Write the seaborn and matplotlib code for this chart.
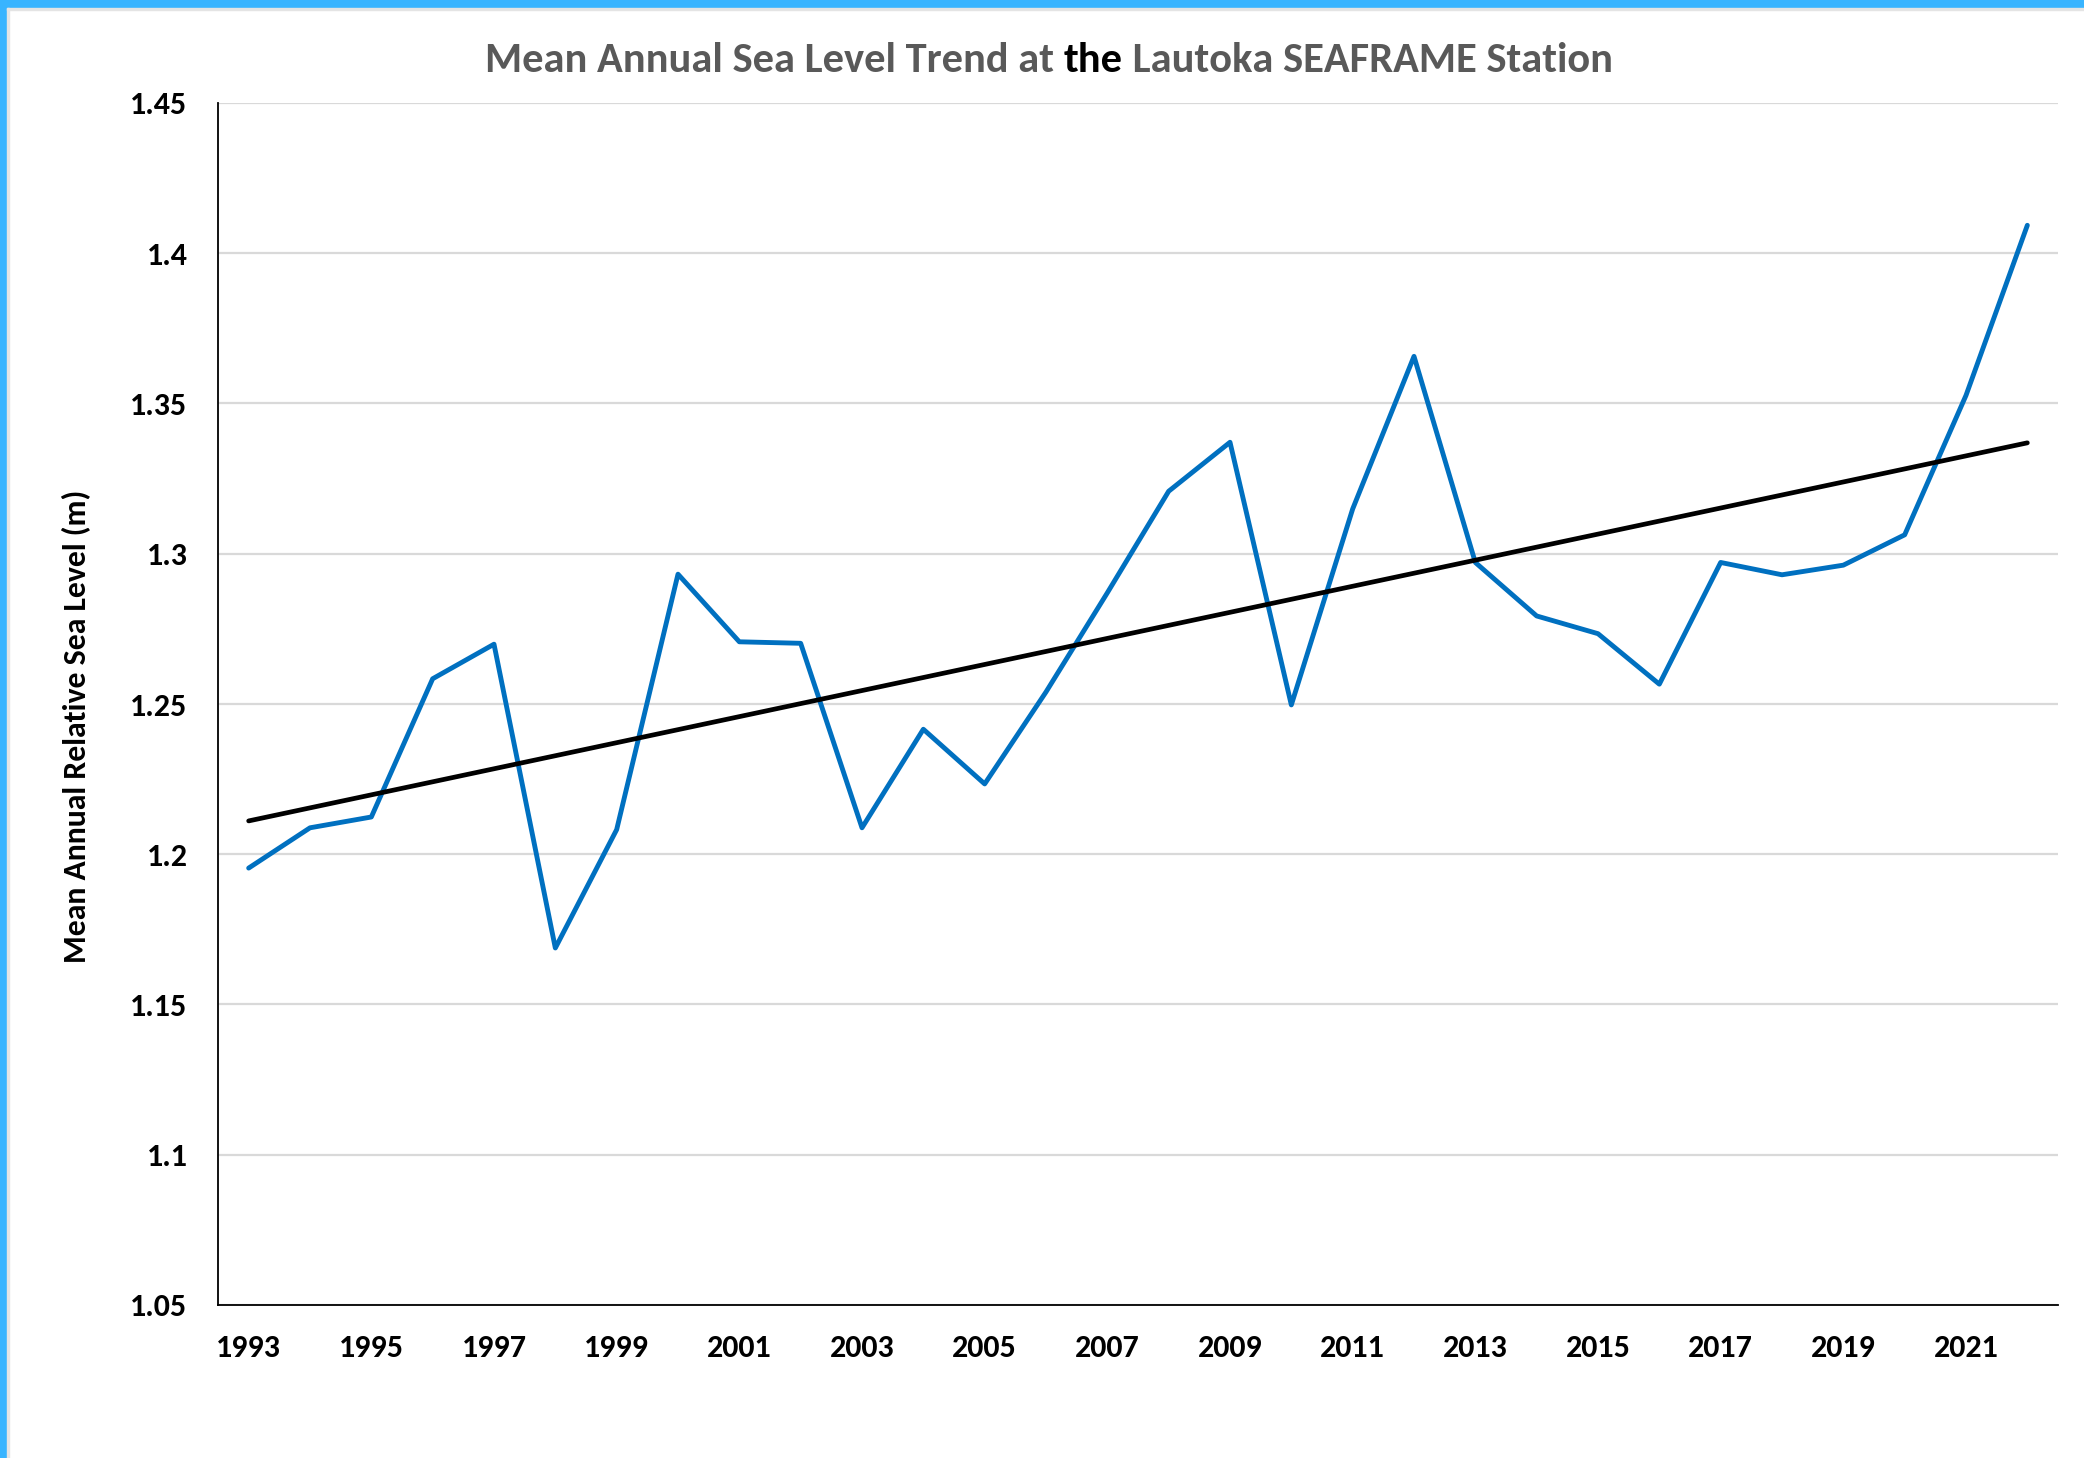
import numpy as np
import pandas as pd
import seaborn as sns
import matplotlib.pyplot as plt
from matplotlib.patches import Rectangle

# annual mean relative sea level, Lautoka SEAFRAME (m)
years = list(range(1993, 2023))
sea_level = [1.1954, 1.2088, 1.2124, 1.2584, 1.2699, 1.1688, 1.2082, 1.2932,
             1.2707, 1.2702, 1.2088, 1.2416, 1.2234, 1.2540, 1.2870, 1.3208,
             1.3371, 1.2497, 1.3149, 1.3657, 1.2971, 1.2793, 1.2734, 1.2566,
             1.2971, 1.2930, 1.2962, 1.3063, 1.3527, 1.4093]
ytick_vals = [1.05, 1.1, 1.15, 1.2, 1.25, 1.3, 1.35, 1.4, 1.45]
ytick_labels = ["1.05", "1.1", "1.15", "1.2", "1.25", "1.3", "1.35", "1.4", "1.45"]
xtick_years = list(range(1993, 2022, 2))

df = pd.DataFrame({"year": years, "level": sea_level})
# linear trendline, as in the spreadsheet
slope, icpt = np.polyfit(df["year"], df["level"], 1)
df["trend"] = slope * df["year"] + icpt

sns.set_theme(style="white")
FONT = ["Carlito", "Liberation Sans", "DejaVu Sans"]
plt.rcParams["font.family"] = FONT

W, H = 2084, 1458
fig = plt.figure(figsize=(W / 100, H / 100), dpi=100)
ax = fig.add_axes([218 / W, 1 - 1305 / H, (2058 - 218) / W, (1305 - 103) / H])

ax.yaxis.grid(True, color="#D9D9D9", lw=1.6)
ax.set_axisbelow(True)
sns.lineplot(data=df, x="year", y="level", ax=ax, color="#0070C0", lw=3.5)
sns.lineplot(data=df, x="year", y="trend", ax=ax, color="black", lw=3.4)

ax.set_xlim(1992.5, 2022.5)
ax.set_ylim(1.05, 1.45)
ax.set_yticks(ytick_vals, ytick_labels)
ax.set_xticks(xtick_years, [str(y) for y in xtick_years])
ax.tick_params(axis="both", length=0, labelsize=23)
ax.tick_params(axis="y", pad=22)
ax.tick_params(axis="x", pad=21)
for lab in ax.get_xticklabels() + ax.get_yticklabels():
    lab.set_fontweight("bold")
    lab.set_color("black")
ax.set_xlabel("")
ax.set_ylabel("")

for side in ["top", "right"]:
    ax.spines[side].set_visible(False)
for side in ["left", "bottom"]:
    ax.spines[side].set_color("black")
    ax.spines[side].set_linewidth(1.3)

fig.canvas.draw()
renderer = fig.canvas.get_renderer()

# y label, sized to the reference length
ylab = fig.text(77 / W, 1 - 726 / H, "Mean Annual Relative Sea Level (m)", rotation=90,
                fontsize=20, fontweight="bold", color="black", ha="center", va="center")
ylab.set_fontsize(20 * 474 / ylab.get_window_extent(renderer).height)

# title: grey with a black "the"
parts = [("Mean Annual Sea Level Trend at ", "#595959"), ("the", "black"),
         (" Lautoka SEAFRAME Station", "#595959")]
texts = [fig.text(0, 1 - 60 / H, s, fontsize=22, fontweight="bold", color=c, va="center")
         for s, c in parts]
total = sum(t.get_window_extent(renderer).width for t in texts)
for t in texts:
    t.set_fontsize(22 * 1123 / total)
widths = [t.get_window_extent(renderer).width for t in texts]
x0 = 1049 - sum(widths) / 2
for t, w in zip(texts, widths):
    t.set_x(x0 / W)
    x0 += w

# blue frame at left and top
blue = "#38B4FF"
fig.patches.append(Rectangle((0, 0), 7 / W, 1, transform=fig.transFigure, color=blue, zorder=5))
fig.patches.append(Rectangle((0, 1 - 8 / H), 1, 8 / H, transform=fig.transFigure, color=blue, zorder=5))
fig.patches.append(Rectangle((7 / W, 0), 2 / W, 1 - 8 / H, transform=fig.transFigure, color="#E4E4E4", zorder=5))
fig.patches.append(Rectangle((7 / W, 1 - 10 / H), 1, 2 / H, transform=fig.transFigure, color="#E4E4E4", zorder=5))

fig.savefig("out.png", dpi=100, facecolor="white")
